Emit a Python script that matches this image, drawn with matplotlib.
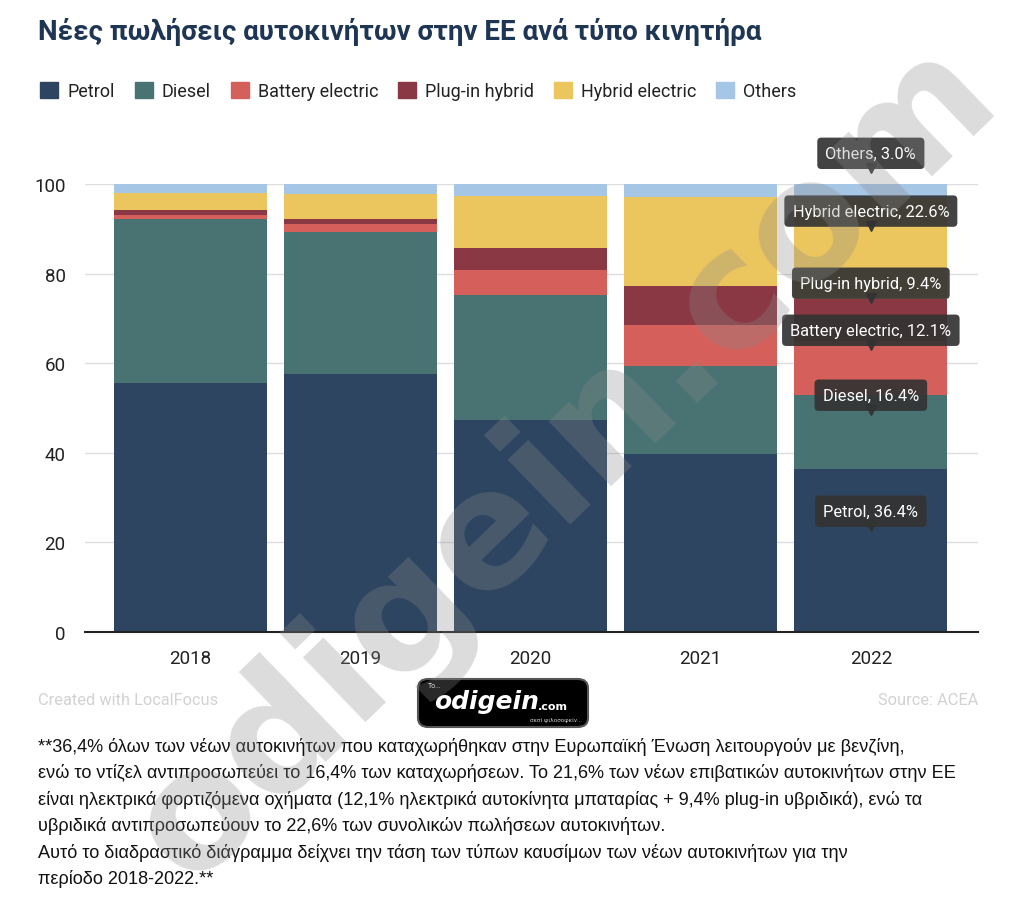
import numpy as np
import matplotlib.pyplot as plt
from matplotlib.patches import FancyBboxPatch

years = ['2018', '2019', '2020', '2021', '2022']
categories = ['Petrol', 'Diesel', 'Battery electric', 'Plug-in hybrid', 'Hybrid electric', 'Others']
petrol = [55.5, 57.6, 47.3, 39.7, 36.4]
diesel = [36.6, 31.6, 28.0, 19.7, 16.4]
battery = [1.0, 1.9, 5.4, 9.2, 12.1]
plugin = [1.0, 1.0, 5.0, 8.7, 9.4]
hybrid = [4.0, 5.6, 11.7, 19.9, 22.6]
others = [1.9, 2.4, 2.6, 2.8, 3.0]
series = [petrol, diesel, battery, plugin, hybrid, others]
colors = ['#2d4560', '#487372', '#d45f5b', '#8a3843', '#ebc65f', '#a6c6e6']

title = 'Νέες πωλήσεις αυτοκινήτων στην ΕΕ ανά τύπο κινητήρα'
note = ('**36,4% όλων των νέων αυτοκινήτων που καταχωρήθηκαν στην Ευρωπαϊκή Ένωση λειτουργούν με βενζίνη,\n'
        'ενώ το ντίζελ αντιπροσωπεύει το 16,4% των καταχωρήσεων. Το 21,6% των νέων επιβατικών αυτοκινήτων στην ΕΕ\n'
        'είναι ηλεκτρικά φορτιζόμενα οχήματα (12,1% ηλεκτρικά αυτοκίνητα μπαταρίας + 9,4% plug-in υβριδικά), ενώ τα\n'
        'υβριδικά αντιπροσωπεύουν το 22,6% των συνολικών πωλήσεων αυτοκινήτων.\n'
        'Αυτό το διαδραστικό διάγραμμα δείχνει την τάση των τύπων καυσίμων των νέων αυτοκινήτων για την\n'
        'περίοδο 2018-2022.**')

plt.rcParams['font.family'] = ['Roboto', 'DejaVu Sans']

fig = plt.figure(figsize=(10.24, 9.04), dpi=100)
ax = fig.add_axes([85 / 1024, (904 - 633) / 904, 893 / 1024, 448 / 904])

x = np.arange(len(years))
bottom = np.zeros(len(years))
for vals, col, name in zip(series, colors, categories):
    ax.bar(x, vals, width=0.9, bottom=bottom, color=col, label=name, zorder=2)
    bottom += np.array(vals)

ax.set_xlim(-0.62, 4.63)
ax.set_ylim(0, 100)
ax.set_yticks([0, 20, 40, 60, 80, 100])
ax.set_xticks(x)
ax.set_xticklabels(years)
ax.grid(axis='y', color='#dddddd', linewidth=1, zorder=0)
for s in ['top', 'right', 'left']:
    ax.spines[s].set_visible(False)
ax.spines['bottom'].set_color('#222222')
ax.spines['bottom'].set_linewidth(1.5)
ax.spines['bottom'].set_zorder(3)
ax.tick_params(axis='both', length=0, labelsize=13.5, colors='#222222')
ax.tick_params(axis='y', pad=14)
ax.tick_params(axis='x', pad=12)

# tooltips on the 2022 bar
tips = [102.2, 89.3, 73.2, 62.7, 48.2, 22.3]
order = [5, 4, 3, 2, 1, 0]
for tip_y, i in zip(tips, order):
    label = f'{categories[i]}, {series[i][-1]:.1f}%'
    ax.annotate(label, xy=(4, tip_y), xytext=(0, 15), textcoords='offset points',
                ha='center', va='center', fontsize=11.8, color='white',
                bbox=dict(boxstyle='round,pad=0.5,rounding_size=0.25', fc='#333333', ec='none', alpha=0.92),
                zorder=6, annotation_clip=False)
    ax.plot(4, tip_y + 1.3, marker='v', color='#333333', markersize=7, alpha=0.92,
            zorder=6, clip_on=False)

# title and legend
fig.text(38 / 1024, 1 - 32 / 904, title, fontsize=20, fontweight='bold', color='#1e3553', va='center')
handles = [plt.Rectangle((0, 0), 1, 1, color=c) for c in colors]
fig.legend(handles, categories, loc='center left', bbox_to_anchor=(24 / 1024, 1 - 92 / 904),
           ncol=6, frameon=False, fontsize=13, handlelength=1.0, handleheight=1.0,
           handletextpad=0.5, columnspacing=1.1, labelcolor='#222222')

fig.text(38 / 1024, 1 - 701 / 904, 'Created with LocalFocus', fontsize=11.8, color='#d2d2d2', va='center')
fig.text(978 / 1024, 1 - 701 / 904, 'Source: ACEA', fontsize=11.8, color='#d2d2d2', va='center', ha='right')

# logo
logo = FancyBboxPatch((418 / 1024, 1 - 728 / 904), 170 / 1024, 48 / 904,
                      boxstyle='round,pad=0,rounding_size=0.01', transform=fig.transFigure,
                      fc='black', ec='#555555', lw=1.5, zorder=5)
fig.patches.append(logo)
fig.text(434 / 1024, 1 - 702 / 904, 'odigein', fontsize=18, fontweight='bold', style='italic',
         color='white', ha='left', va='center', family=['DejaVu Sans'], zorder=6)
fig.text(538 / 1024, 1 - 707 / 904, '.com', fontsize=8, fontweight='bold', color='white',
         ha='left', va='center', family=['DejaVu Sans'], zorder=6)
fig.text(428 / 1024, 1 - 687 / 904, 'To...', fontsize=5, color='white', va='center', zorder=6)
fig.text(556 / 1024, 1 - 720 / 904, 'σεσί φιλοσοφείν...', fontsize=4.5, color='#cccccc',
         ha='center', va='center', zorder=6)

fig.text(38 / 1024, 1 - 738 / 904, note, fontsize=13.1, color='#111111', va='top',
         family=['Liberation Sans'], linespacing=1.6)

# watermark
fig.text(565 / 1024, 1 - 462 / 904, 'odigein.com', fontsize=118, fontweight='bold', color='#8a8a8a',
         alpha=0.3, rotation=44, ha='center', va='center', family=['DejaVu Sans'], zorder=10)

fig.savefig('out.png', dpi=100, facecolor='white')
